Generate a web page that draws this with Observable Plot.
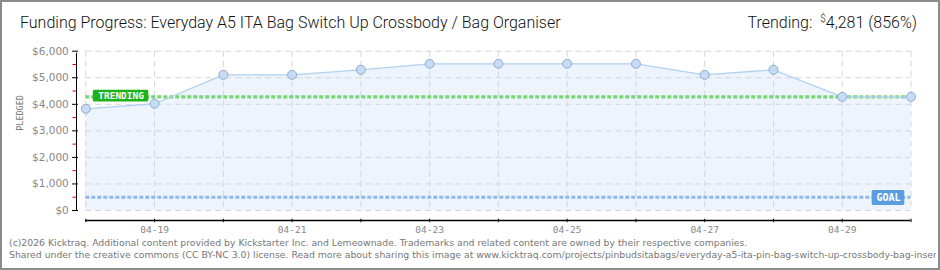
<!DOCTYPE html>
<html>
<head>
<meta charset="utf-8">
<script src="https://cdn.jsdelivr.net/npm/d3@7"></script>
<script src="https://cdn.jsdelivr.net/npm/@observablehq/plot@0.6"></script>
<style>
  html, body { margin: 0; padding: 0; background: #fff; }
  #wrap { position: relative; width: 940px; height: 270px; overflow: hidden; background: #fff; }
  #frame { position: absolute; left: 0; top: 0; width: 940px; height: 270px; box-sizing: border-box; border: 2px solid #8c8c8c; pointer-events: none; }
  #title { position: absolute; left: 20px; top: 13px; font-family: Roboto, "Liberation Sans", sans-serif; font-weight: 300; font-size: 16px; line-height: 20px; color: #111; white-space: nowrap; }
  #trend { position: absolute; right: 23px; top: 13px; font-family: Roboto, "Liberation Sans", sans-serif; font-weight: 300; font-size: 16px; line-height: 20px; color: #111; white-space: nowrap; }
  #trend sup { font-size: 10px; vertical-align: 6px; line-height: 0; margin-left: 4px; }
  #chart { position: absolute; left: 0; top: 38px; }
  #footer { position: absolute; left: 9px; top: 237px; width: 927px; overflow: hidden; font-family: "DejaVu Sans", Verdana, sans-serif; font-size: 9.3px; line-height: 12px; color: #777; white-space: nowrap; }
</style>
</head>
<body>
<div id="wrap">
  <div id="title">Funding Progress: Everyday A5 ITA Bag Switch Up Crossbody / Bag Organiser</div>
  <div id="trend">Trending: <sup>$</sup>4,281 (856%)</div>
  <div id="chart"></div>
  <div id="footer">(c)2026 Kicktraq. Additional content provided by Kickstarter Inc. and Lemeownade. Trademarks and related content are owned by their respective companies.<br>Shared under the creative commons (CC BY-NC 3.0) license. Read more about sharing this image at www.kicktraq.com/projects/pinbudsitabags/everyday-a5-ita-pin-bag-switch-up-crossbody-bag-insert/</div>
  <div id="frame"></div>
</div>
<script>
// ---- data ----
const days = ["2026-04-18","2026-04-19","2026-04-20","2026-04-21","2026-04-22","2026-04-23","2026-04-24","2026-04-25","2026-04-26","2026-04-27","2026-04-28","2026-04-29","2026-04-30"];
const pledged = [3830, 4020, 5110, 5110, 5300, 5525, 5525, 5525, 5525, 5110, 5300, 4281, 4281];
const labelDays = ["2026-04-19","2026-04-21","2026-04-23","2026-04-25","2026-04-27","2026-04-29"];
const yTicks = [0, 1000, 2000, 3000, 4000, 5000, 6000];
const yMinorTicks = [500, 1500, 2500, 3500, 4500, 5500];
const goal = 500;
const trending = 4281;

const parse = d3.utcParse("%Y-%m-%d");
const dates = days.map(parse);
const labelDates = labelDays.map(parse);
const rows = dates.map((d, i) => ({date: d, value: pledged[i]}));
const first = dates[0], last = dates[dates.length - 1];

const pix = "DejaVu Sans Mono, monospace";

const chart = Plot.plot({
  width: 940,
  height: 200,
  marginLeft: 85.3,
  marginRight: 29.5,
  marginTop: 12.7,
  marginBottom: 28,
  style: {background: "transparent", overflow: "visible"},
  x: {type: "utc", domain: [first, last]},
  y: {domain: [0, 6000]},
  marks: [
    Plot.areaY(rows, {x: "date", y: "value", fill: "#edf4fd"}),
    Plot.gridX(dates, {stroke: "#d6d6d6", strokeOpacity: 1, strokeDasharray: "6,4"}),
    Plot.gridY(yTicks, {stroke: "#d6d6d6", strokeOpacity: 1, strokeDasharray: "6,4"}),
    Plot.ruleY([goal], {stroke: "#8fb9e6", strokeWidth: 3.2, strokeDasharray: "4,2"}),
    Plot.ruleY([trending], {stroke: "#77d477", strokeWidth: 3.2, strokeDasharray: "4,2"}),
    Plot.lineY(rows, {x: "date", y: "value", stroke: "#b3d2f2", strokeWidth: 1.3}),
    Plot.dot(rows, {x: "date", y: "value", r: 4.5, fill: "#c6dcf5", stroke: "#8eabcd", strokeWidth: 1}),
    // labels
    Plot.rect([trending], {x1: () => first, x2: () => first, y1: d => d, y2: d => d, insetLeft: 7.5, insetRight: -63, insetTop: -6.5, insetBottom: -5.2, fill: "#1bb21b", rx: 1.5}),
    Plot.text(["TRENDING"], {x: () => first, y: () => trending, dx: 35.3, dy: -0.5, fill: "#fff", fontSize: 9.5, fontWeight: "bold", fontFamily: pix, letterSpacing: 0.3}),
    Plot.rect([goal], {x1: () => last, x2: () => last, y1: d => d, y2: d => d, insetLeft: -38.8, insetRight: 6.2, insetTop: -6.7, insetBottom: -8.3, fill: "#5a9de0", rx: 1.5}),
    Plot.text(["GOAL"], {x: () => last, y: () => goal, dx: -22.5, dy: 0.8, fill: "#fff", fontSize: 10, fontWeight: "bold", fontFamily: pix}),
    // y axis
    Plot.ruleX([first], {x: d => d, y1: () => 0, y2: () => 6000, dx: -9.3, stroke: "#000", insetBottom: -2}),
    Plot.axisY(yTicks, {tickSize: 6, dx: -7.3, stroke: "#000", fill: "none", label: null}),
    Plot.axisY(yMinorTicks, {tickSize: 3.5, dx: -9.3, stroke: "#e00000", fill: "none", label: null}),
    Plot.axisY(yTicks, {tickSize: 0, tickPadding: 0, dx: -17, tickFormat: d3.format("$,"), label: null, fill: "#888", fontSize: 10.5, fontFamily: "DejaVu Sans, sans-serif"}),
    Plot.text(["PLEDGED"], {frameAnchor: "left", rotate: -90, dx: -65.3, fill: "#777", fontSize: 8.5, fontFamily: pix, letterSpacing: 0.8, text: d => d}),
    // x axis
    Plot.ruleY([0], {dy: 10, stroke: "#000", strokeWidth: 1.3}),
    Plot.axisX(dates, {tickSize: 3.5, dy: 8.7, stroke: "#000", fill: "none", label: null}),
    Plot.axisX(labelDates, {tickSize: 0, tickPadding: 0, dy: 16, tickFormat: d3.utcFormat("%m-%d"), label: null, fill: "#888", fontSize: 9.5, fontFamily: pix})
  ]
});
document.getElementById("chart").appendChild(chart);
</script>
</body>
</html>
